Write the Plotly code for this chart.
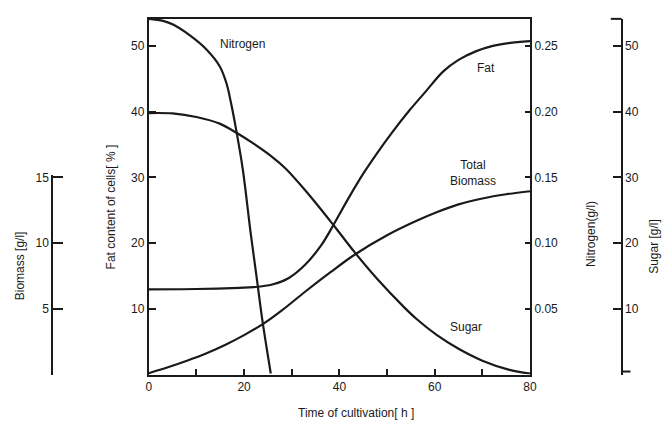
import plotly.graph_objects as go

# ---- data ----
nit_t = [0, 3, 5.2, 8.7, 12.1, 14.9, 16.3, 17.3, 18.3, 19.7, 21.4, 22.8, 23.8, 25.6]
nit_v = [0.2707, 0.2692, 0.2662, 0.2579, 0.2474, 0.2345, 0.2217, 0.2059, 0.1870, 0.1568, 0.107, 0.0694, 0.0422, 0.0008]

fat_t = [0, 10, 19, 22, 25.9, 29.4, 32.8, 36.2, 38.7, 41.8, 45.2, 48, 51, 54.8, 58, 61.8, 65, 68.6, 72, 75.5, 80]
fat_v = [12.97, 13.02, 13.2, 13.3, 13.7, 14.7, 16.7, 19.7, 22.7, 26.7, 30.8, 33.8, 36.8, 40.3, 42.99, 46.15,
         47.9, 49.2, 50.0, 50.45, 50.75]

sug_t = [0, 5, 10, 15, 18.4, 22, 25.8, 28.7, 33, 38.7, 43.1, 48, 53.5, 56.2, 60.4, 65, 70, 75.5, 80]
sug_v = [39.8, 39.75, 39.2, 38.16, 36.8, 35.14, 33.18, 31.37, 27.9, 22.8, 18.7, 14.5, 10.3, 8.45, 6.03, 3.92,
         2.11, 0.75, 0.15]

bio_t = [0, 4, 8, 12, 16, 20, 24, 28, 32.8, 38, 43.1, 50, 56.2, 60.4, 65, 70, 75, 80]
bio_v = [0.1, 0.55, 1.05, 1.6, 2.25, 3.0, 3.85, 4.9, 6.3, 7.75, 9.1, 10.6, 11.7, 12.35, 12.95, 13.4, 13.72, 13.95]

x_ticks = [0, 10, 20, 30, 40, 50, 60, 70, 80]
x_ticktext = ["0", "", "20", "", "40", "", "60", "", "80"]
fat_ticks = [10, 20, 30, 40, 50]
nit_ticks = [0.05, 0.10, 0.15, 0.20, 0.25]
sug_ticks = [10, 20, 30, 40, 50]
bio_ticks = [0, 5, 10, 15]
bio_ticktext = ["", "5", "10", "15"]

W, H = 670, 428
px = lambda x: x / W
py = lambda y: 1 - y / H

INK = "#1a1a1a"
FONT = dict(family="Liberation Sans, Arial, sans-serif", size=12, color=INK)
line = dict(color=INK, width=2.2, shape="spline", smoothing=1.0, simplify=False)

fig = go.Figure()
fig.add_trace(go.Scatter(x=nit_t, y=nit_v, mode="lines", line=line, yaxis="y2", hoverinfo="skip"))
fig.add_trace(go.Scatter(x=fat_t, y=fat_v, mode="lines", line=line, yaxis="y", hoverinfo="skip"))
fig.add_trace(go.Scatter(x=sug_t, y=sug_v, mode="lines", line=line, yaxis="y3", hoverinfo="skip"))
fig.add_trace(go.Scatter(x=bio_t, y=bio_v, mode="lines", line=line, yaxis="y4", hoverinfo="skip"))

x0, x1 = px(148), px(535)
ybot, ytop = py(374), py(15)
fat_top = (374 - 15) / 6.63
bio_top_px = 172.5
bio_top = (374 - bio_top_px) / 13.26

ax_common = dict(showgrid=False, zeroline=False, showline=True, linecolor=INK, linewidth=2,
                 tickcolor=INK, tickwidth=1.5, tickfont=FONT)

fig.update_layout(
    width=W, height=H, margin=dict(l=0, r=0, t=0, b=0),
    paper_bgcolor="white", plot_bgcolor="rgba(0,0,0,0)", showlegend=False,
    xaxis=dict(domain=[x0, x1], range=[0, 80], tickvals=x_ticks, ticktext=x_ticktext,
               ticks="inside", ticklen=6, mirror=True, **ax_common),
    yaxis=dict(domain=[ybot, ytop], range=[0, fat_top], tickvals=fat_ticks,
               ticks="inside", ticklen=7, anchor="x", side="left", **ax_common),
    yaxis2=dict(overlaying="y", range=[0, fat_top * 0.005], tickvals=nit_ticks, tickformat=".2f",
                ticks="inside", ticklen=5, anchor="x", side="right", **ax_common),
    yaxis3=dict(overlaying="y", range=[0, fat_top], tickvals=sug_ticks, anchor="free",
                position=px(628), side="right", ticks="inside", ticklen=8, **ax_common),
    yaxis4=dict(domain=[ybot, py(bio_top_px)], range=[0, bio_top], tickvals=bio_ticks,
                ticktext=bio_ticktext, anchor="free", position=px(50), side="left",
                ticks="inside", ticklen=10, **ax_common),
)

# bracket ends of the sugar axis
fig.add_shape(type="line", xref="paper", yref="paper", x0=px(617), x1=px(628), y0=ytop, y1=ytop,
              line=dict(color=INK, width=2))
fig.add_shape(type="line", xref="paper", yref="paper", x0=px(628), x1=px(637), y0=py(371), y1=py(371),
              line=dict(color=INK, width=2))

def note(text, x, y, angle=0, xanchor="center", size=12):
    fig.add_annotation(text=text, x=px(x), y=py(y), xref="paper", yref="paper", showarrow=False,
                       textangle=angle, xanchor=xanchor, yanchor="middle",
                       font=dict(family=FONT["family"], size=size, color=INK))

note("Nitrogen", 243, 40)
note("Fat", 490, 65)
note("Total<br>Biomass", 452, 171, xanchor="left")
note("Sugar", 470, 326)
note("Time of cultivation[ h ]", 358, 413)
note("Biomass [g/l]", 17, 264, angle=-90)
note("Fat content of cells[ % ]", 110, 205, angle=-90)
note("Nitrogen(g/l)", 597, 232, angle=-90)
note("Sugar [g/l]", 661, 245, angle=-90)

fig.write_html("out.html")
